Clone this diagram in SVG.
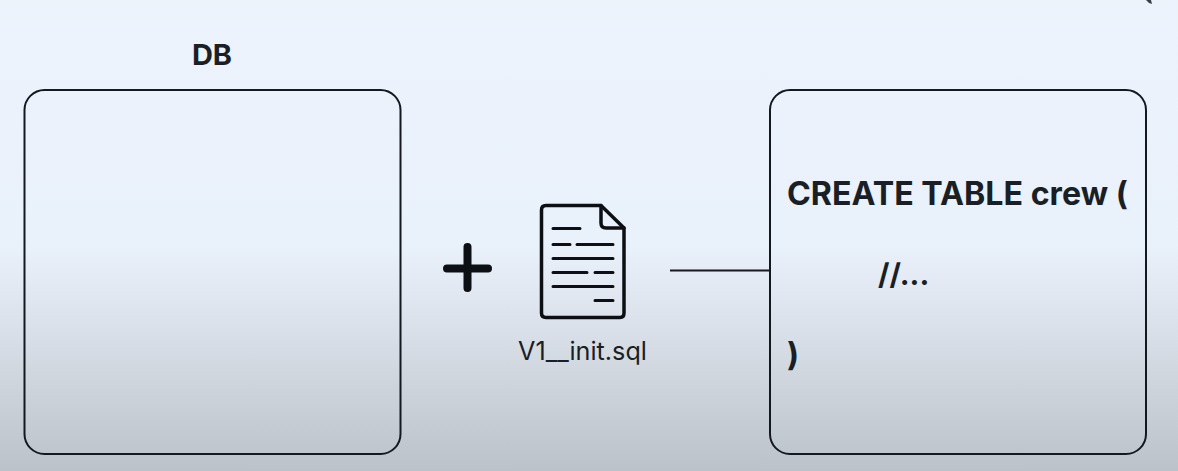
<svg xmlns="http://www.w3.org/2000/svg" width="1178" height="471" viewBox="0 0 1178 471">
<style>
.box{fill:none;stroke:#14191f;stroke-width:2}
.t{font-family:Inter,"Liberation Sans",sans-serif;fill:#1a1f26}
.b{font-weight:700;font-size:32.200px}
.ic{fill:none;stroke:#0c0f13;stroke-linecap:round;stroke-linejoin:round}
</style>
<defs><linearGradient id="bg" x1="0" y1="0" x2="0" y2="1">
<stop offset="0" stop-color="#edf3fb"/><stop offset="0.52" stop-color="#e9f1fb"/><stop offset="0.62" stop-color="#e2e8f1"/><stop offset="0.8" stop-color="#d0d6de"/><stop offset="1" stop-color="#bcc2ca"/>
</linearGradient></defs>
<rect width="1178" height="471" fill="url(#bg)"/>
<path d="M1146 0H1151L1152 4L1149 3Z" fill="#3a4048"/>
<g id="connectors"><line x1="670" y1="270.500" x2="770" y2="270.500" stroke="#14191f" stroke-width="2"/></g>
<g id="db"><text class="t" x="212" y="65" text-anchor="middle" font-weight="700" font-size="29">DB</text>
<rect class="box" x="24.500" y="90" width="376" height="364" rx="20"/></g>
<g id="plus"><path class="ic" stroke-width="8" d="M467.500 247V288M447 268.500H488"/></g>
<g id="file">
<path class="ic" stroke-width="3.500" d="M546 205.500H601L624 228V313Q624 317.500 620 317.500H546Q541.500 317.500 541.500 313V210Q541.500 205.500 546 205.500Z"/>
<path class="ic" stroke-width="3.500" d="M601 205.500V223Q601 228 606 228H624"/>
<path class="ic" stroke-width="3" d="M553 228.500H580M553 244.500H570M577 244.500H613M553 258.500H613M553 272.500H587M595 272.500H613M553 286.500H613M595 300.500H613"/>
<text class="t" x="582.500" y="360" text-anchor="middle" font-size="25.200" fill="#262c34">V1__init.sql</text>
</g>
<g id="sql">
<rect class="box" x="770" y="90" width="376" height="364" rx="20"/>
<text class="t b" x="787" y="205">CREATE TABLE crew (</text>
<text class="t b" x="878" y="285" style="font-size:29.500px">//...</text>
<text class="t b" x="787" y="366">)</text>
</g>
</svg>
